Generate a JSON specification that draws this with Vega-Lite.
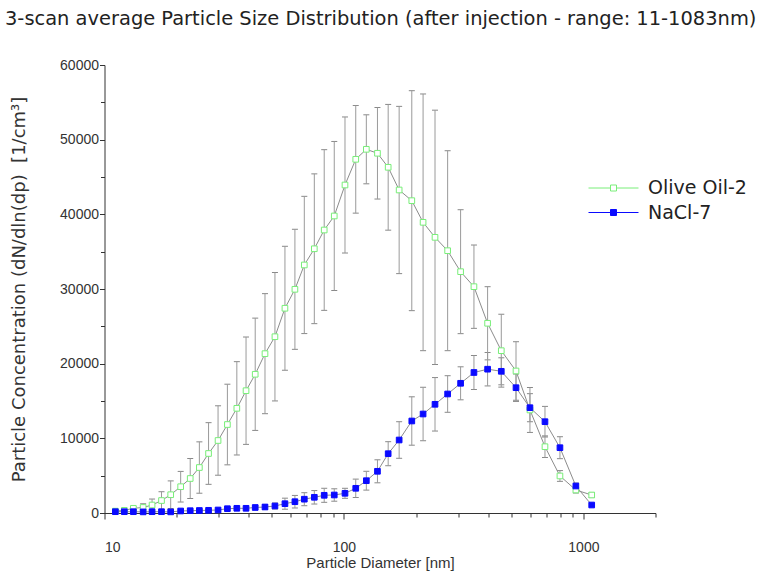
{
  "$schema": "https://vega.github.io/schema/vega-lite/v6.json",
  "width": 551,
  "height": 448,
  "autosize": {"type": "none"},
  "padding": {"left": 104.5, "top": 65, "right": 107.5, "bottom": 64},
  "background": "white",
  "title": {
    "text": "3-scan average Particle Size Distribution (after injection - range: 11-1083nm)",
    "anchor": "start",
    "frame": "group",
    "dx": -99.5,
    "offset": 29,
    "font": "DejaVu Sans",
    "fontSize": 19.45,
    "fontWeight": "normal",
    "color": "#222222"
  },
  "datasets": {
    "psd": [
      {"series": "Olive Oil-2", "d": 11.1, "v": 250, "e": 80},
      {"series": "Olive Oil-2", "d": 12.1, "v": 350, "e": 120},
      {"series": "Olive Oil-2", "d": 13.2, "v": 630, "e": 250},
      {"series": "Olive Oil-2", "d": 14.5, "v": 740, "e": 500},
      {"series": "Olive Oil-2", "d": 15.8, "v": 1070, "e": 800},
      {"series": "Olive Oil-2", "d": 17.3, "v": 1670, "e": 1180},
      {"series": "Olive Oil-2", "d": 18.9, "v": 2450, "e": 1850},
      {"series": "Olive Oil-2", "d": 20.8, "v": 3520, "e": 2050},
      {"series": "Olive Oil-2", "d": 22.8, "v": 4620, "e": 2680},
      {"series": "Olive Oil-2", "d": 24.9, "v": 6090, "e": 3440},
      {"series": "Olive Oil-2", "d": 27.2, "v": 7970, "e": 4130},
      {"series": "Olive Oil-2", "d": 29.8, "v": 9710, "e": 4650},
      {"series": "Olive Oil-2", "d": 32.6, "v": 11850, "e": 5400},
      {"series": "Olive Oil-2", "d": 35.7, "v": 14020, "e": 6250},
      {"series": "Olive Oil-2", "d": 39.0, "v": 16380, "e": 7190},
      {"series": "Olive Oil-2", "d": 42.6, "v": 18580, "e": 7520},
      {"series": "Olive Oil-2", "d": 46.8, "v": 21340, "e": 8040},
      {"series": "Olive Oil-2", "d": 51.5, "v": 23610, "e": 8600},
      {"series": "Olive Oil-2", "d": 56.7, "v": 27420, "e": 8300},
      {"series": "Olive Oil-2", "d": 62.4, "v": 29960, "e": 8040},
      {"series": "Olive Oil-2", "d": 68.3, "v": 33220, "e": 9190},
      {"series": "Olive Oil-2", "d": 75.2, "v": 35390, "e": 10030},
      {"series": "Olive Oil-2", "d": 82.7, "v": 37900, "e": 10760},
      {"series": "Olive Oil-2", "d": 91.1, "v": 39780, "e": 9980},
      {"series": "Olive Oil-2", "d": 101, "v": 43930, "e": 9110},
      {"series": "Olive Oil-2", "d": 112, "v": 47370, "e": 7210},
      {"series": "Olive Oil-2", "d": 124, "v": 48710, "e": 4620},
      {"series": "Olive Oil-2", "d": 138, "v": 48180, "e": 6130},
      {"series": "Olive Oil-2", "d": 153, "v": 46300, "e": 8420},
      {"series": "Olive Oil-2", "d": 170, "v": 43260, "e": 11200},
      {"series": "Olive Oil-2", "d": 192, "v": 41830, "e": 14730},
      {"series": "Olive Oil-2", "d": 214, "v": 38930, "e": 17190},
      {"series": "Olive Oil-2", "d": 240, "v": 36920, "e": 17030},
      {"series": "Olive Oil-2", "d": 271, "v": 35130, "e": 13390},
      {"series": "Olive Oil-2", "d": 307, "v": 32320, "e": 8300},
      {"series": "Olive Oil-2", "d": 349, "v": 30310, "e": 5580},
      {"series": "Olive Oil-2", "d": 398, "v": 25410, "e": 4900},
      {"series": "Olive Oil-2", "d": 454, "v": 21740, "e": 4880},
      {"series": "Olive Oil-2", "d": 523, "v": 19020, "e": 3920},
      {"series": "Olive Oil-2", "d": 598, "v": 13800, "e": 3010},
      {"series": "Olive Oil-2", "d": 691, "v": 8880, "e": 1450},
      {"series": "Olive Oil-2", "d": 798, "v": 4960, "e": 720},
      {"series": "Olive Oil-2", "d": 930, "v": 3080, "e": 400},
      {"series": "Olive Oil-2", "d": 1083, "v": 2410, "e": 330},
      {"series": "NaCl-7", "d": 11.1, "v": 174, "e": 90},
      {"series": "NaCl-7", "d": 12.1, "v": 174, "e": 90},
      {"series": "NaCl-7", "d": 13.2, "v": 174, "e": 90},
      {"series": "NaCl-7", "d": 14.5, "v": 150, "e": 90},
      {"series": "NaCl-7", "d": 15.8, "v": 174, "e": 90},
      {"series": "NaCl-7", "d": 17.3, "v": 174, "e": 90},
      {"series": "NaCl-7", "d": 18.9, "v": 150, "e": 90},
      {"series": "NaCl-7", "d": 20.8, "v": 268, "e": 100},
      {"series": "NaCl-7", "d": 22.8, "v": 308, "e": 100},
      {"series": "NaCl-7", "d": 24.9, "v": 335, "e": 100},
      {"series": "NaCl-7", "d": 27.2, "v": 362, "e": 110},
      {"series": "NaCl-7", "d": 29.8, "v": 402, "e": 120},
      {"series": "NaCl-7", "d": 32.6, "v": 576, "e": 200},
      {"series": "NaCl-7", "d": 35.7, "v": 629, "e": 200},
      {"series": "NaCl-7", "d": 39.0, "v": 629, "e": 200},
      {"series": "NaCl-7", "d": 42.6, "v": 737, "e": 220},
      {"series": "NaCl-7", "d": 46.8, "v": 804, "e": 335},
      {"series": "NaCl-7", "d": 51.5, "v": 938, "e": 400},
      {"series": "NaCl-7", "d": 56.7, "v": 1246, "e": 740},
      {"series": "NaCl-7", "d": 62.4, "v": 1513, "e": 840},
      {"series": "NaCl-7", "d": 68.3, "v": 1848, "e": 870},
      {"series": "NaCl-7", "d": 75.2, "v": 2103, "e": 900},
      {"series": "NaCl-7", "d": 82.7, "v": 2371, "e": 940},
      {"series": "NaCl-7", "d": 91.1, "v": 2411, "e": 830},
      {"series": "NaCl-7", "d": 101, "v": 2638, "e": 670},
      {"series": "NaCl-7", "d": 112, "v": 3308, "e": 1230},
      {"series": "NaCl-7", "d": 124, "v": 4326, "e": 1260},
      {"series": "NaCl-7", "d": 138, "v": 5585, "e": 1540},
      {"series": "NaCl-7", "d": 153, "v": 7942, "e": 1610},
      {"series": "NaCl-7", "d": 170, "v": 9777, "e": 2450},
      {"series": "NaCl-7", "d": 192, "v": 12322, "e": 3240},
      {"series": "NaCl-7", "d": 214, "v": 13259, "e": 3580},
      {"series": "NaCl-7", "d": 240, "v": 14558, "e": 3580},
      {"series": "NaCl-7", "d": 271, "v": 15938, "e": 2450},
      {"series": "NaCl-7", "d": 307, "v": 17371, "e": 2210},
      {"series": "NaCl-7", "d": 349, "v": 18817, "e": 2280},
      {"series": "NaCl-7", "d": 398, "v": 19259, "e": 2240},
      {"series": "NaCl-7", "d": 454, "v": 18978, "e": 1810},
      {"series": "NaCl-7", "d": 523, "v": 16781, "e": 1840},
      {"series": "NaCl-7", "d": 598, "v": 14103, "e": 1880},
      {"series": "NaCl-7", "d": 691, "v": 12228, "e": 2050},
      {"series": "NaCl-7", "d": 798, "v": 8746, "e": 1470},
      {"series": "NaCl-7", "d": 930, "v": 3616, "e": 400},
      {"series": "NaCl-7", "d": 1083, "v": 1071, "e": 130}
    ]
  },
  "data": {"name": "psd"},
  "resolve": {"axis": {"x": "independent", "y": "independent"}},
  "layer": [
    {
      "mark": {"type": "errorbar", "ticks": {"size": 6, "color": "#555555"}, "rule": {"color": "#9a9a9a"}, "thickness": 1},
      "encoding": {
        "x": {"field": "d", "type": "quantitative", "scale": {"type": "log", "domain": [10, 2000], "nice": false}, "axis": null},
        "y": {"field": "v", "type": "quantitative", "scale": {"domain": [0, 60000], "nice": false}, "axis": null},
        "yError": {"field": "e"},
        "detail": {"field": "series", "type": "nominal"}
      }
    },
    {
      "mark": {"type": "line", "color": "#8c8c8c", "strokeWidth": 1},
      "encoding": {
        "x": {"field": "d", "type": "quantitative", "scale": {"type": "log", "domain": [10, 2000], "nice": false},
          "axis": {"orient": "bottom", "values": [10, 100, 1000], "format": "d", "title": "Particle Diameter [nm]", "tickSize": 6, "labelPadding": 21, "titlePadding": 1}},
        "y": {"field": "v", "type": "quantitative", "scale": {"domain": [0, 60000], "nice": false},
          "axis": {"orient": "left", "values": [0, 10000, 20000, 30000, 40000, 50000, 60000], "format": "d", "title": "Particle Concentration (dN/dln(dp)\u00a0 [1/cm³]", "tickSize": 5, "labelPadding": 1, "titlePadding": 31, "titleFont": "DejaVu Sans", "titleFontSize": 18}},
        "detail": {"field": "series", "type": "nominal"}
      }
    },
    {
      "mark": {"type": "square", "size": 32, "strokeWidth": 1, "opacity": 1},
      "encoding": {
        "x": {"field": "d", "type": "quantitative", "scale": {"type": "log", "domain": [10, 2000], "nice": false},
          "axis": {"orient": "bottom", "values": [20, 30, 40, 50, 60, 70, 80, 90, 200, 300, 400, 500, 600, 700, 800, 900, 2000], "labels": false, "domain": false, "title": null, "tickSize": 4}},
        "y": {"field": "v", "type": "quantitative", "scale": {"domain": [0, 60000], "nice": false},
          "axis": {"orient": "left", "values": [5000, 15000, 25000, 35000, 45000, 55000], "labels": false, "domain": false, "title": null, "tickSize": 4}},
        "stroke": {"field": "series", "type": "nominal", "scale": {"domain": ["Olive Oil-2", "NaCl-7"], "range": ["#78ee78", "#0a0aff"]}, "legend": {"title": null}},
        "fill": {"field": "series", "type": "nominal", "scale": {"domain": ["Olive Oil-2", "NaCl-7"], "range": ["#ffffff", "#0a0aff"]}, "legend": {"title": null}}
      }
    }
  ],
  "config": {
    "view": {"stroke": null},
    "axis": {
      "grid": false,
      "domainColor": "#333333",
      "tickColor": "#333333",
      "labelColor": "#333333",
      "titleColor": "#333333",
      "labelFont": "Liberation Sans",
      "titleFont": "Liberation Sans",
      "labelFontSize": 14,
      "titleFontSize": 15,
      "titleFontWeight": "normal",
      "labelPadding": 3
    },
    "legend": {
      "orient": "none",
      "legendX": 496,
      "legendY": 110,
      "padding": 0,
      "rowPadding": 1.5,
      "symbolType": "M-2,0H-0.24M0.24,0H2M-0.24,-0.24H0.24V0.24H-0.24Z",
      "symbolSize": 625,
      "symbolStrokeWidth": 1,
      "labelFont": "DejaVu Sans",
      "labelFontSize": 19,
      "labelColor": "#222222",
      "labelOffset": 21.5
    }
  }
}
